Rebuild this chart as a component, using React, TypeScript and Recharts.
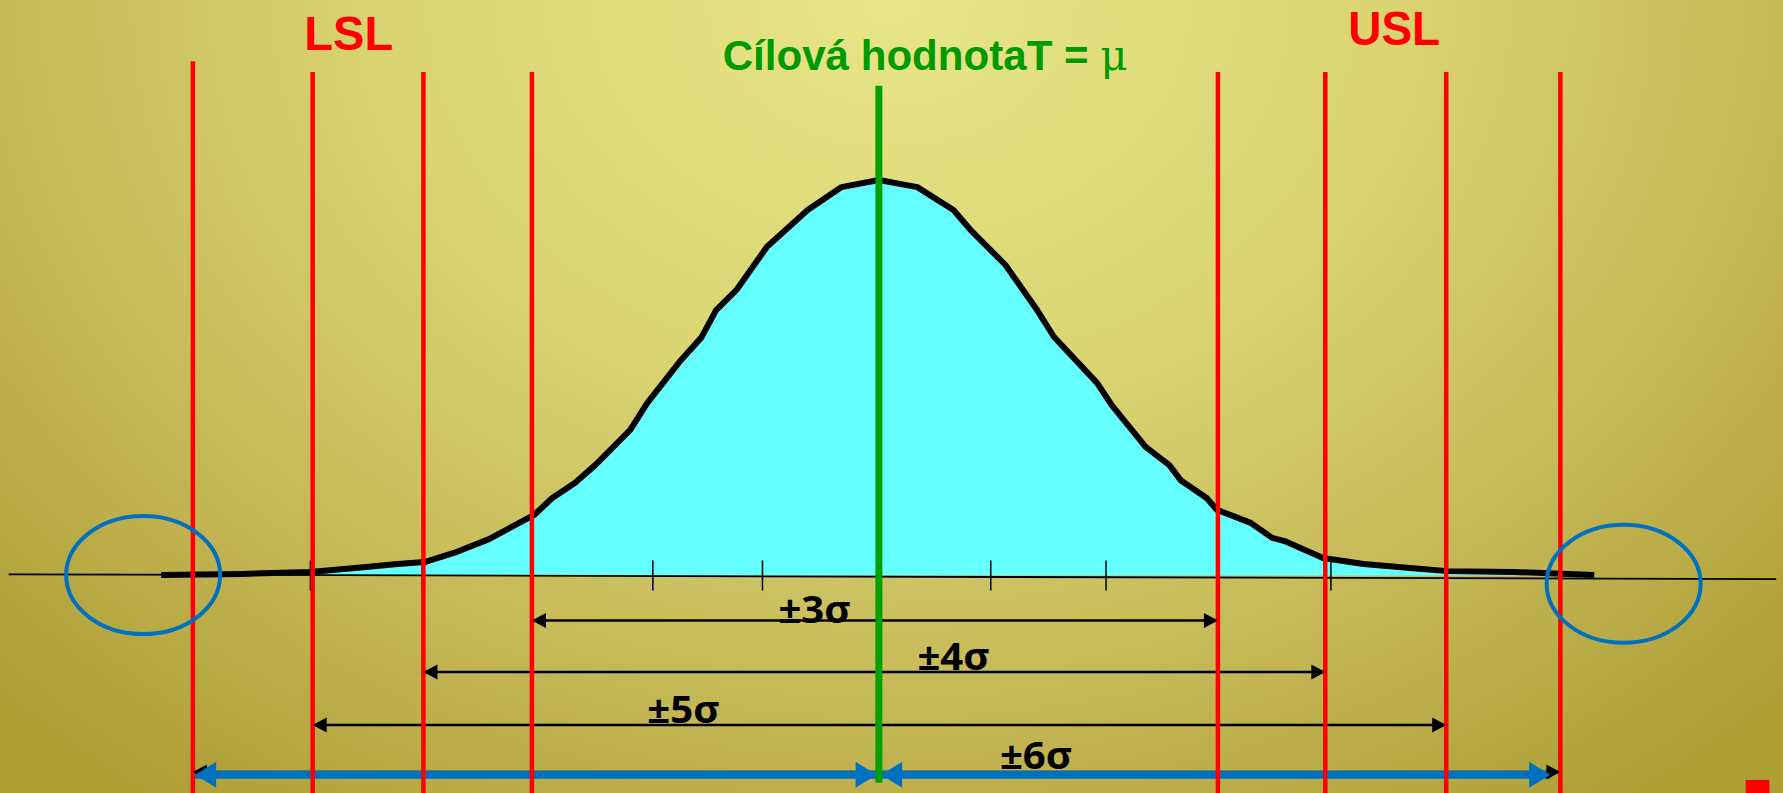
import React from 'react'
import { ComposedChart, Area, XAxis, YAxis, ReferenceLine, ReferenceDot, ReferenceArea } from 'recharts'

// x in sigma units (0 = target value mu), y = curve height in % of the peak
const curveSigma = [
  -6.35, -5.64, -5.03, -4.56, -4.26, -4.02, -3.76, -3.45, -3.05, -2.89, -2.69, -2.51, -2.36, -2.2, -2.05,
  -1.75, -1.57, -1.44, -1.26, -0.99, -0.63, -0.33, 0, 0.34, 0.66, 0.81, 1.12, 1.4, 1.55, 1.93, 2.06,
  2.36, 2.57, 2.67, 2.9, 2.99, 3.29, 3.48, 3.59, 3.93, 4.29, 4.7, 5.03, 5.62, 6.33,
]
const curveHeight = [
  0.1, 0.4, 0.9, 2.1, 2.9, 3.4, 5.7, 9.2, 15.3, 19.6, 23.4, 27.9, 32.2, 36.8, 43.6,
  54.5, 60.2, 67.1, 72.2, 83.1, 92.4, 98.2, 100, 98.2, 92.4, 87.4, 78.5, 67.1, 60.3, 48.7, 43.1,
  32.5, 27.9, 24.1, 19.6, 16.6, 13.3, 9.5, 8.7, 4.4, 2.9, 1.9, 1.1, 0.9, 0.1,
]

// limit lines as drawn (nominally -6..-3 and 3..6 sigma)
const lslLines = [-6.07, -5.01, -4.03, -3.07]
const uslLines = [3.0, 3.95, 5.02, 6.03]
const tickSigma = [-6.07, -5.03, -4.04, -3.07, -2.0, -1.03, 0.99, 2.01, 2.99, 4.0, 5.02, 6.03]

// +-k sigma spans under the axis
const spanLeft = [-3.07, -4.03, -5.01, -6.07]
const spanRight = [3.0, 3.95, 5.02, 6.03]
const spanLevel = [-11.4, -24.4, -37.8, -49.7]
const spanLabels = ['±3σ', '±4σ', '±5σ', '±6σ']
const labelSigma = [-0.57, 0.66, -1.73, 1.39]
const labelLevel = [-12, -23.9, -37.3, -48.9]

const blueLeft = -6.05
const blueRight = 5.94
const blueLevel = -50.4
const circleSigma = [-6.51, 6.59]
const circleLevel = [0.1, -2.1]

const data = curveSigma.map((s, i) => ({ s, v: curveHeight[i] }))

const W = 1783
const H = 793
const RED = '#ff0000'
const GREEN = '#009900'
const BLUE = '#0070c0'

const head = (dir: number, len: number, half: number, color: string) => (p: any) => (
  <polygon
    points={`${p.cx},${p.cy} ${p.cx - dir * len},${p.cy - half} ${p.cx - dir * len},${p.cy + half}`}
    fill={color}
  />
)

const label = (text: string, size: number, color: string, len: number, family: string) => (p: any) => (
  <text
    x={p.cx}
    y={p.cy}
    textAnchor="middle"
    fontFamily={family}
    fontWeight="bold"
    fontSize={size}
    fill={color}
    textLength={len}
    lengthAdjust="spacingAndGlyphs"
  >
    {text}
  </text>
)

const title = (p: any) => (
  <text
    x={p.cx}
    y={p.cy}
    textAnchor="middle"
    fontFamily="'Liberation Sans', Arial, sans-serif"
    fontWeight="bold"
    fontSize={42}
    fill={GREEN}
    textLength={405}
    lengthAdjust="spacingAndGlyphs"
  >
    Cílová hodnotaT ={' '}
    <tspan fontFamily="'DejaVu Serif', serif" fontWeight="normal">
      μ
    </tspan>
  </text>
)

const ellipse = (p: any) => (
  <ellipse cx={p.cx} cy={p.cy} rx={77} ry={59} fill="none" stroke={BLUE} strokeWidth={4} />
)

export default function App() {
  return (
    <div
      style={{
        position: 'absolute',
        left: 0,
        top: 0,
        width: W,
        height: H,
        background:
          'radial-gradient(ellipse 70% 125% at 50% 0%, #e8e688 0%, #dad472 40%, #c6b958 70%, #ad9e36 100%)',
      }}
    >
      <ComposedChart width={W} height={H} data={data} margin={{ top: 2, right: 0, bottom: 0, left: 3 }}>
        <XAxis type="number" dataKey="s" domain={[-7.75, 8]} hide allowDataOverflow />
        <YAxis type="number" domain={[-55, 145]} hide allowDataOverflow />

        <Area
          type="linear"
          dataKey="v"
          baseValue={0}
          stroke="#000"
          strokeWidth={6}
          strokeLinejoin="round"
          fill="#66ffff"
          fillOpacity={1}
          isAnimationActive={false}
          dot={false}
          activeDot={false}
        />

        {/* horizontal axis with sigma ticks */}
        <ReferenceLine segment={[{ x: -7.7, y: 0.3 }, { x: 7.94, y: -0.9 }]} stroke="#000" strokeWidth={1.8} ifOverflow="visible" />
        {tickSigma.map((k) => (
          <ReferenceLine key={'t' + k} segment={[{ x: k, y: 3.8 }, { x: k, y: -3.8 }]} stroke="#000" strokeWidth={1.5} />
        ))}

        {/* span arrows */}
        {spanLevel.map((lv, i) => (
          <ReferenceLine
            key={'a' + i}
            segment={[{ x: spanLeft[i], y: lv }, { x: spanRight[i], y: lv }]}
            stroke="#000"
            strokeWidth={2.5}
          />
        ))}
        <ReferenceLine segment={[{ x: blueLeft, y: blueLevel }, { x: 0, y: blueLevel }]} stroke={BLUE} strokeWidth={8} />
        <ReferenceLine segment={[{ x: 0, y: blueLevel }, { x: blueRight, y: blueLevel }]} stroke={BLUE} strokeWidth={8} />

        {/* specification limits and target */}
        {lslLines.concat(uslLines).map((k, i) => (
          <ReferenceLine
            key={'r' + k}
            segment={[{ x: k, y: i === 0 ? 130 : 127.3 }, { x: k, y: -56 }]}
            stroke={RED}
            strokeWidth={4.5}
            ifOverflow="visible"
          />
        ))}
        <ReferenceLine segment={[{ x: 0, y: 123.8 }, { x: 0, y: -52.4 }]} stroke="#00a000" strokeWidth={7} />

        {spanLevel.map((lv, i) => (
          <ReferenceDot key={'hl' + i} x={spanLeft[i]} y={lv} r={1} shape={head(-1, 14, 7.5, '#000')} />
        ))}
        {spanLevel.map((lv, i) => (
          <ReferenceDot key={'hr' + i} x={spanRight[i]} y={lv} r={1} shape={head(1, 14, 7.5, '#000')} />
        ))}
        <ReferenceDot x={blueLeft} y={blueLevel} r={1} shape={head(-1, 21, 13, BLUE)} />
        <ReferenceDot x={-0.02} y={blueLevel} r={1} shape={head(1, 21, 13, BLUE)} />
        <ReferenceDot x={0.02} y={blueLevel} r={1} shape={head(-1, 21, 13, BLUE)} />
        <ReferenceDot x={blueRight} y={blueLevel} r={1} shape={head(1, 21, 13, BLUE)} />

        {circleSigma.map((s, i) => (
          <ReferenceDot key={'c' + i} x={s} y={circleLevel[i]} r={1} shape={ellipse} />
        ))}

        {spanLabels.map((t, i) => (
          <ReferenceDot
            key={t}
            x={labelSigma[i]}
            y={labelLevel[i]}
            r={1}
            shape={label(t, 37, '#000', 72, "'Open Sans', 'Liberation Sans', sans-serif")}
          />
        ))}
        <ReferenceDot x={-4.69} y={132.9} r={1} shape={label('LSL', 48, RED, 89, "'Liberation Sans', Arial, sans-serif")} />
        <ReferenceDot x={4.56} y={134.1} r={1} shape={label('USL', 48, RED, 92, "'Liberation Sans', Arial, sans-serif")} />
        <ReferenceDot x={0.41} y={127.8} r={1} shape={title} />

        <ReferenceArea x1={7.67} x2={7.88} y1={-55} y2={-51.7} fill={RED} fillOpacity={1} stroke="none" />
      </ComposedChart>
    </div>
  )
}
